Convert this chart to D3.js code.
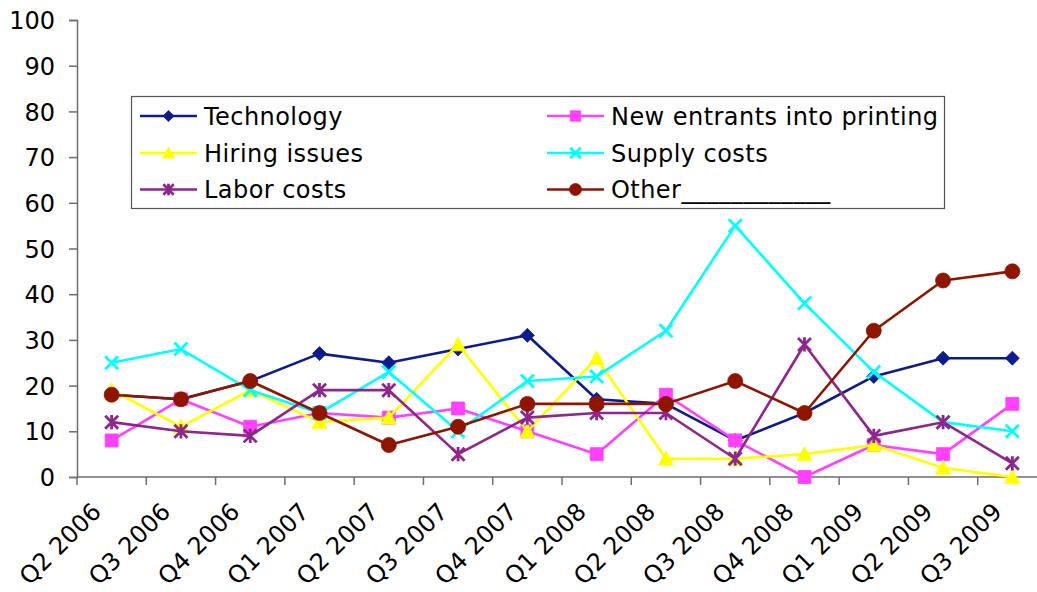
<!DOCTYPE html>
<html>
<head>
<meta charset="utf-8">
<script src="https://cdn.jsdelivr.net/npm/d3@7/dist/d3.min.js"></script>
<style>
  html, body { margin: 0; padding: 0; background: #fff; }
  svg { display: block; }
  text { font-family: "DejaVu Sans", Verdana, sans-serif; fill: #000; letter-spacing: 0.45px; }
</style>
</head>
<body>
<svg id="chart" width="1037" height="592"></svg>
<script>
// ---- data ----
const categories = ["Q2 2006","Q3 2006","Q4 2006","Q1 2007","Q2 2007","Q3 2007","Q4 2007",
                    "Q1 2008","Q2 2008","Q3 2008","Q4 2008","Q1 2009","Q2 2009","Q3 2009"];
const technology    = [18, 17, 21, 27, 25, 28, 31, 17, 16, 8, 14, 22, 26, 26];
const newEntrants   = [8, 17, 11, 14, 13, 15, 10, 5, 18, 8, 0, 7, 5, 16];
const hiringIssues  = [19, 11, 19, 12, 13, 29, 10, 26, 4, 4, 5, 7, 2, 0];
const supplyCosts   = [25, 28, 19, 14, 23, 10, 21, 22, 32, 55, 38, 23, 12, 10];
const laborCosts    = [12, 10, 9, 19, 19, 5, 13, 14, 14, 4, 29, 9, 12, 3];
const other         = [18, 17, 21, 14, 7, 11, 16, 16, 16, 21, 14, 32, 43, 45];
const seriesNames   = ["Technology", "New entrants into printing", "Hiring issues",
                       "Supply costs", "Labor costs", "Other____________"];
const yTicks        = [0, 10, 20, 30, 40, 50, 60, 70, 80, 90, 100];

const seriesValues = [technology, newEntrants, hiringIssues, supplyCosts, laborCosts, other];
const seriesColors = ["#0C1C8E", "#FF40FF", "#FFFF00", "#00FFFF", "#8E268E", "#8F1500"];
const seriesMarkers = ["diamond", "square", "triangle", "x", "star", "circle"];

const svg = d3.select("#chart");

const x = d3.scaleBand().domain(categories).range([77, 1047]).padding(0);
const xc = c => x(c) + x.bandwidth() / 2;
const y = d3.scaleLinear().domain([0, 100]).range([477, 20]);

// ---- axes ----
const axisColor = "#6e6e6e";
const yAxis = d3.axisLeft(y).tickValues(yTicks).tickSize(8).tickPadding(14).tickFormat(d3.format("d"));
const gy = svg.append("g").attr("transform", `translate(${x.range()[0]},0)`).call(yAxis);
gy.select(".domain").attr("stroke", axisColor).attr("stroke-width", 1.5);
gy.selectAll(".tick line").attr("stroke", axisColor).attr("stroke-width", 1.5);
gy.selectAll(".tick text").style("font-size", "24px").style("letter-spacing", "0px")
  .attr("dy", "0.36em").attr("fill", "#000");

// x axis line
svg.append("line")
  .attr("x1", x.range()[0]).attr("x2", x.range()[1])
  .attr("y1", y(0)).attr("y2", y(0))
  .attr("stroke", axisColor).attr("stroke-width", 1.5);
// ticks at category boundaries
const boundaries = categories.map(c => x(c)).concat([x.range()[1]]);
svg.append("g").selectAll("line").data(boundaries).join("line")
  .attr("x1", d => d).attr("x2", d => d)
  .attr("y1", y(0)).attr("y2", y(0) + 8)
  .attr("stroke", axisColor).attr("stroke-width", 1.5);
// rotated labels
svg.append("g").selectAll("text").data(categories).join("text")
  .attr("transform", c => `translate(${xc(c) - 9},${y(0) + 36}) rotate(-45)`)
  .attr("text-anchor", "end")
  .style("font-size", "24px")
  .style("letter-spacing", "0.1px")
  .text(c => c);

// ---- marker paths ----
function markerPath(type, s) {
  switch (type) {
    case "diamond": return `M0,${-s}L${s},0L0,${s}L${-s},0Z`;
    case "square": return `M${-s},${-s}H${s}V${s}H${-s}Z`;
    case "triangle": return `M0,${-s}L${s},${s * 0.85}L${-s},${s * 0.85}Z`;
    case "x": return `M${-s},${-s}L${s},${s}M${s},${-s}L${-s},${s}`;
    case "star": return `M${-s},${-s}L${s},${s}M${s},${-s}L${-s},${s}M0,${-s * 1.1}L0,${s * 1.1}`;
    case "circle": return `M${s},0A${s},${s} 0 1,1 ${-s},0A${s},${s} 0 1,1 ${s},0Z`;
  }
}
const markerSize = { diamond: 7, square: 6.5, triangle: 7.5, x: 6.5, star: 6.5, circle: 7.5 };
function drawMarker(g, type, color, scale) {
  const s = markerSize[type] * scale;
  const stroked = (type === "x" || type === "star");
  g.append("path")
    .attr("d", markerPath(type, s))
    .attr("fill", stroked ? "none" : color)
    .attr("stroke", color)
    .attr("stroke-width", stroked ? 2.8 : 0.8)
    .attr("stroke-linejoin", "miter");
}

// ---- series ----
const line = d3.line().x((d, i) => xc(categories[i])).y(d => y(d));
const plot = svg.append("g");
seriesValues.forEach((vals, si) => {
  const g = plot.append("g");
  g.append("path").datum(vals)
    .attr("d", line)
    .attr("fill", "none")
    .attr("stroke", seriesColors[si])
    .attr("stroke-width", 2.6)
    .attr("stroke-linejoin", "round");
  vals.forEach((v, i) => {
    const mg = g.append("g").attr("transform", `translate(${xc(categories[i])},${y(v)})`);
    drawMarker(mg, seriesMarkers[si], seriesColors[si], 1);
  });
});

// ---- legend ----
const legend = svg.append("g");
legend.append("rect")
  .attr("x", 131.5).attr("y", 96.5).attr("width", 813).attr("height", 112)
  .attr("fill", "#fff").attr("stroke", "#555").attr("stroke-width", 1.2);
const colX = [140, 547];
const rowY = [116, 153, 189.5];
seriesNames.forEach((name, i) => {
  const cx = colX[i % 2], cy = rowY[Math.floor(i / 2)];
  const g = legend.append("g").attr("transform", `translate(${cx},${cy})`);
  g.append("line").attr("x1", 0).attr("x2", 57).attr("y1", 0).attr("y2", 0)
    .attr("stroke", seriesColors[i]).attr("stroke-width", 2.6);
  const mg = g.append("g").attr("transform", "translate(28.5,0)");
  drawMarker(mg, seriesMarkers[i], seriesColors[i], 0.8);
  g.append("text").attr("x", 64).attr("y", 0).attr("dy", "0.36em")
    .style("font-size", "24px").text(name);
});
</script>
</body>
</html>
